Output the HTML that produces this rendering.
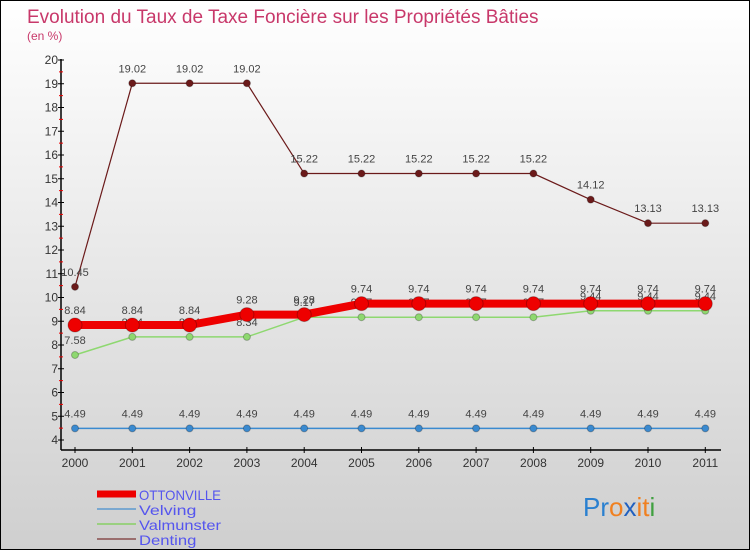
<!DOCTYPE html>
<html><head><meta charset="utf-8"><style>
body{margin:0}
#c{width:748px;height:548px;border:1px solid #000;background:linear-gradient(#fff,#cfcfcf);position:relative;overflow:hidden;font-family:"Liberation Sans","DejaVu Sans",sans-serif}
svg{position:absolute;left:0;top:0}
</style></head><body>
<div id="c">
<svg id="s" width="748" height="548">
<text x="26" y="22" font-size="19" fill="#c8386a">Evolution du Taux de Taxe Foncière sur les Propriétés Bâties</text>
<text x="26" y="39" font-size="12" fill="#c8386a">(en %)</text>
</svg>
</div>
<script>
const years=['2000','2001','2002','2003','2004','2005','2006','2007','2008','2009','2010','2011'];
const ottonville=[8.84,8.84,8.84,9.28,9.28,9.74,9.74,9.74,9.74,9.74,9.74,9.74];
const velving=[4.49,4.49,4.49,4.49,4.49,4.49,4.49,4.49,4.49,4.49,4.49,4.49];
const valmunster=[7.58,8.34,8.34,8.34,9.17,9.17,9.17,9.17,9.17,9.44,9.44,9.44];
const denting=[10.45,19.02,19.02,19.02,15.22,15.22,15.22,15.22,15.22,14.12,13.13,13.13];
const yTicks=[4,5,6,7,8,9,10,11,12,13,14,15,16,17,18,19,20];
const s=document.getElementById('s');const NS='http://www.w3.org/2000/svg';
const X=i=>74+i*57.3, Y=v=>439-(v-4)*23.75;
function el(t,a,p){const e=document.createElementNS(NS,t);for(const k in a)e.setAttribute(k,a[k]);(p||s).appendChild(e);return e;}
let ax=el('line',{x1:60,y1:58,x2:60,y2:449,stroke:'#000','stroke-width':1.5});


let bx=el('line',{x1:60,y1:449,x2:720,y2:449,stroke:'#000','stroke-width':1.5});


yTicks.forEach(v=>{el('line',{x1:57,x2:63,y1:Y(v),y2:Y(v),stroke:'#000'});
if(v<20)el('line',{x1:58,x2:62,y1:Y(v+0.5),y2:Y(v+0.5),stroke:'#e00'});
const t=el('text',{x:57,y:Y(v)+4,'font-size':12,fill:'#333','text-anchor':'end'});t.textContent=v;

});
years.forEach((y,i)=>{el('line',{x1:X(i),x2:X(i),y1:446,y2:452,stroke:'#000'});
const t=el('text',{x:X(i),y:466,'font-size':12,fill:'#333','text-anchor':'middle'});t.textContent=y;

});
function series(d,col,w,r,name){
const g=el('g',{});


el('polyline',{points:d.map((v,i)=>X(i)+','+Y(v)).join(' '),fill:'none',stroke:col,'stroke-width':w},g);
d.forEach((v,i)=>{const c=el('circle',{cx:X(i),cy:Y(v),r:r,fill:col,stroke:'rgba(0,0,0,0.25)'},g);


const t=el('text',{x:X(i),y:Y(v)-11,'font-size':11,fill:'#444','text-anchor':'middle'},g);t.textContent=String(v);});}
series(denting,'#6b1a1a',1.2,3.5,'denting');
series(velving,'#3a8ad0',1.5,3.5,'velving');
series(valmunster,'#8ed870',1.5,3.5,'valmunster');
series(ottonville,'#ee0000',8,7,'ottonville');
const leg=[['OTTONVILLE','#ee0000',7],['Velving','#7aa8d0',2],['Valmunster','#9ad080',2],['Denting','#9a6e6e',2]];
leg.forEach((l,i)=>{const y=493+i*15;
const g=el('g',{});


el('line',{x1:96,x2:135,y1:y,y2:y,stroke:l[1],'stroke-width':l[2]},g);
const t=el('text',{x:138,y:y+6,'font-size':14,fill:'#5555ee',textLength:l[0].length*8.2,lengthAdjust:'spacingAndGlyphs'},g);t.textContent=l[0];});
const lg=el('text',{x:582,y:515,'font-size':26});


[['Pr','#2a80d0'],['o','#f08020'],['x','#2060c0'],['it','#f08020'],['i','#40a040']].forEach(p=>{const ts=el('tspan',{fill:p[1]},lg);ts.textContent=p[0];});
</script>
</body></html>
